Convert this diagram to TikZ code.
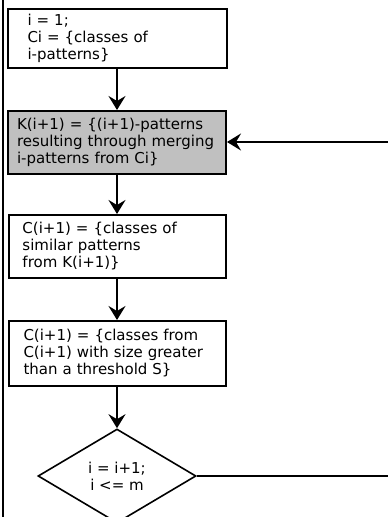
\documentclass[tikz,border=0pt]{standalone}
\usepackage{fontspec}
\setmainfont{DejaVu Sans}
\usepackage{xcolor}
\definecolor{mergeGray}{HTML}{C0C0C0}
\usepackage{tikz}
\usetikzlibrary{arrows.meta,shapes.geometric}

\tikzset{
  procbox/.style={draw, line width=2pt, fill=white, align=left, minimum height=59pt,
    inner ysep=2pt, font=\fontsize{15}{17}\selectfont},
  testbox/.style={draw, diamond, line width=1.6pt, fill=white, align=center,
    minimum width=158pt, minimum height=94pt, inner sep=0pt, font=\fontsize{15}{17}\selectfont},
  flow/.style={->, line width=2pt},
}

\begin{document}
\begin{tikzpicture}[x=1pt, y=1pt, >={Stealth[length=14pt,width=17pt,inset=5pt]}]
  \useasboundingbox (0,0) rectangle (388,517);
  % outer rail on the left
  \coordinate (railtop) at (3,517);
  \coordinate (railbot) at (3,0);
  \draw[line width=2pt] (railtop) -- (railbot);
  % steps
  \node[procbox, text width=179pt, inner xsep=20pt] (init) at (117,478.5)
    {i = 1;\\Ci = \{classes of\\i-patterns\}};
  \node[procbox, fill=mergeGray, text width=200pt, inner xsep=9pt, minimum height=63pt] (merge) at (117,374.5)
    {K(i+1) = \{(i+1)-patterns\\resulting through merging\\i-patterns from Ci\}};
  \node[procbox, text width=189pt, inner xsep=14pt, minimum height=63pt] (similar) at (117,270.5)
    {C(i+1) = \{classes of\\similar patterns\\from K(i+1)\}};
  \node[procbox, text width=187pt, inner xsep=15pt, minimum height=65pt] (threshold) at (117,163.5)
    {C(i+1) = \{classes from\\C(i+1) with size greater\\than a threshold S\}};
  % loop test
  \node[testbox] (test) at (117,41) {i = i+1;\\i <= m};
  % arrows down
  \draw[flow] (init.south) -- (merge.north);
  \draw[flow] (merge.south) -- (similar.north);
  \draw[flow] (similar.south) -- (threshold.north);
  \draw[flow] (threshold.south) -- (test.north);
  % loop back (runs off the right edge)
  \coordinate (loopout) at (388,41);
  \coordinate (loopin) at (388,375);
  \draw[line width=2pt] (test.east) -- (loopout);
  \draw[flow] (loopin) -- (merge.east |- loopin);
\end{tikzpicture}
\end{document}
